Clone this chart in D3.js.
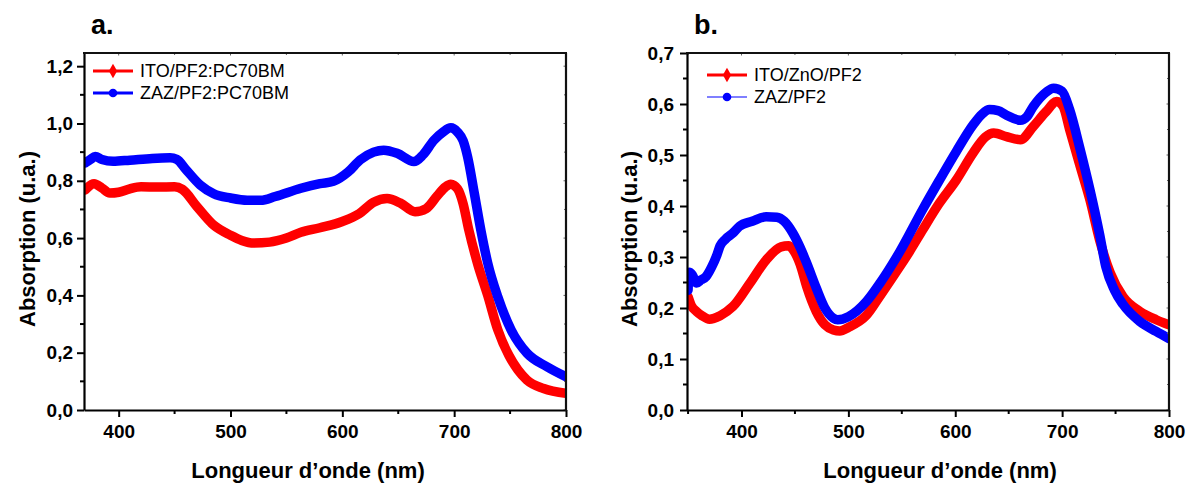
<!DOCTYPE html>
<html><head><meta charset="utf-8">
<script src="https://cdn.jsdelivr.net/npm/d3@7"></script>
<style>
body{margin:0;background:#fff;}
text{font-family:"Liberation Sans",Arial,sans-serif;}
</style></head>
<body><svg id="c" width="1187" height="484"></svg>
<script>
// ---- Data ----
const waveA_ITO = [370,378,385,392,400,410,420,435,450,457,470,485,500,510,521,535,550,563,580,600,615,628,640,652,665,675,685,692,697,703,708,713,721,730,739,749,757,765,780,800];
const absA_ITO  = [0.768,0.79,0.775,0.757,0.76,0.772,0.779,0.778,0.779,0.77,0.71,0.645,0.61,0.592,0.583,0.586,0.6,0.62,0.636,0.658,0.685,0.725,0.738,0.722,0.692,0.703,0.748,0.778,0.788,0.772,0.72,0.63,0.51,0.40,0.28,0.19,0.14,0.105,0.075,0.058];

const waveA_ZAZ = [370,375,379,385,395,410,430,446,452,460,473,485,500,515,527,540,563,580,592,605,616,628,637,649,664,672,682,690,697,703,708,712,718,724,730,739,751,765,783,800];
const absA_ZAZ  = [0.862,0.875,0.885,0.874,0.868,0.872,0.878,0.88,0.875,0.84,0.785,0.755,0.74,0.732,0.732,0.745,0.774,0.79,0.798,0.83,0.873,0.9,0.907,0.896,0.867,0.89,0.942,0.97,0.985,0.97,0.94,0.884,0.757,0.625,0.513,0.395,0.279,0.199,0.151,0.116];

const waveB_ITO = [350,353,358,363,370,380,392,408,423,437,444,448,455,461,470,478,486,492,500,517,530,548,557,570,585,601,617,628,636,648,661,673,685,695,701,707,717,726,735,745,757,773,788,800];
const absB_ITO  = [0.222,0.205,0.193,0.185,0.178,0.185,0.203,0.249,0.294,0.32,0.322,0.315,0.285,0.242,0.193,0.167,0.157,0.155,0.162,0.186,0.225,0.281,0.31,0.355,0.405,0.451,0.505,0.535,0.543,0.536,0.53,0.556,0.585,0.605,0.595,0.55,0.477,0.412,0.334,0.269,0.222,0.193,0.177,0.167];

const waveB_ZAZ = [350,351,354,358,362,367,372,377,380,385,392,398,410,423,433,440,448,455,461,470,478,486,490,500,517,530,548,570,585,601,617,625,632,640,648,661,667,673,685,692,700,707,717,726,735,741,749,757,773,788,800];
const absB_ZAZ  = [0.235,0.27,0.265,0.249,0.255,0.262,0.28,0.304,0.322,0.335,0.347,0.36,0.37,0.379,0.378,0.37,0.347,0.318,0.288,0.239,0.2,0.18,0.177,0.183,0.213,0.25,0.31,0.395,0.45,0.507,0.56,0.58,0.589,0.587,0.578,0.568,0.575,0.595,0.623,0.631,0.625,0.589,0.51,0.432,0.345,0.28,0.235,0.207,0.173,0.154,0.14];

const xTicks = [400,500,600,700,800];
const xMinorA = [450,550,650,750];
const xMinorB = [350,450,550,650,750];
const yTicksA = [0,0.2,0.4,0.6,0.8,1.0,1.2];
const yMinorA = [0.1,0.3,0.5,0.7,0.9,1.1];
const yTicksB = [0,0.1,0.2,0.3,0.4,0.5,0.6,0.7];
const yMinorB = [0.05,0.15,0.25,0.35,0.45,0.55,0.65];

const legendA = ["ITO/PF2:PC70BM","ZAZ/PF2:PC70BM"];
const legendB = ["ITO/ZnO/PF2","ZAZ/PF2"];
const xTitle = "Longueur d\u2019onde (nm)";
const yTitle = "Absorption (u.a.)";

const RED = "#ff0000", BLUE = "#0000ff";
const svg = d3.select("#c");
const fmtY = d => d.toFixed(1).replace(".", ",");

function panel(opt){
  const {x, y, tag, tagX, series, legend, legX, legY, legThinBlue, yTicks, yMinor, xMinor, yPad, yTitleX, xTitleX, id} = opt;
  const [L, R] = x.range(); const [B, T] = y.range();
  const g = svg.append("g");
  g.append("clipPath").attr("id", id).append("rect")
    .attr("x", L).attr("y", T).attr("width", R - L).attr("height", B - T);

  // curves
  const cg = g.append("g").attr("clip-path", `url(#${id})`);
  series.forEach(s => {
    const pts = s.w.map((w, i) => [w, s.a[i]]);
    const line = d3.line().x(d => x(d[0])).y(d => y(d[1])).curve(d3.curveMonotoneX);
    cg.append("path").attr("d", line(pts)).attr("fill", "none")
      .attr("stroke", s.c).attr("stroke-width", 9.5)
      .attr("stroke-linejoin", "round").attr("stroke-linecap", "round");
  });

  // minor ticks
  const mg = g.append("g");
  xMinor.forEach(v => {
    mg.append("line").attr("x1", x(v)).attr("x2", x(v)).attr("y1", B).attr("y2", B + 4).attr("stroke", "#000").attr("stroke-width", 2);
    mg.append("line").attr("x1", x(v)).attr("x2", x(v)).attr("y1", T).attr("y2", T + 2).attr("stroke", "#666").attr("stroke-width", 1);
  });
  xTicks.forEach(v => {
    mg.append("line").attr("x1", x(v)).attr("x2", x(v)).attr("y1", T).attr("y2", T + 2.5).attr("stroke", "#666").attr("stroke-width", 1);
  });
  yMinor.forEach(v => {
    mg.append("line").attr("x1", L - 4).attr("x2", L).attr("y1", y(v)).attr("y2", y(v)).attr("stroke", "#000").attr("stroke-width", 2);
    mg.append("line").attr("x1", R - 2).attr("x2", R).attr("y1", y(v)).attr("y2", y(v)).attr("stroke", "#666").attr("stroke-width", 1);
  });
  yTicks.forEach(v => {
    mg.append("line").attr("x1", R - 2.5).attr("x2", R).attr("y1", y(v)).attr("y2", y(v)).attr("stroke", "#666").attr("stroke-width", 1);
  });

  // axes
  const ax = g.append("g").attr("transform", `translate(0,${B})`)
    .call(d3.axisBottom(x).tickValues(xTicks).tickSize(7).tickSizeOuter(0).tickPadding(8).tickFormat(d3.format("d")));
  const ay = g.append("g").attr("transform", `translate(${L},0)`)
    .call(d3.axisLeft(y).tickValues(yTicks).tickSize(7).tickSizeOuter(0).tickPadding(yPad).tickFormat(fmtY));
  [ax, ay].forEach(a => {
    a.select(".domain").attr("stroke", "#000").attr("stroke-width", 2.2);
    a.selectAll(".tick line").attr("stroke", "#000").attr("stroke-width", 2);
    a.selectAll(".tick text").attr("fill", "#000").style("font-size", "19px").style("font-weight", "bold")
      .style("font-family", '"Liberation Sans",Arial,sans-serif');
  });
  // top and right frame
  g.append("line").attr("x1", L - 1).attr("x2", R + 1).attr("y1", T).attr("y2", T).attr("stroke", "#111").attr("stroke-width", 2.2);
  g.append("line").attr("x1", R).attr("x2", R).attr("y1", T).attr("y2", B + 1).attr("stroke", "#111").attr("stroke-width", 2.2);

  // titles
  g.append("text").attr("x", xTitleX).attr("y", 478).attr("text-anchor", "middle")
    .style("font-size", "22px").style("font-weight", "bold").text(xTitle);
  g.append("text").attr("transform", `translate(${yTitleX},239) rotate(-90)`).attr("text-anchor", "middle")
    .style("font-size", "22px").style("font-weight", "bold").text(yTitle);
  g.append("text").attr("x", tagX).attr("y", 34).style("font-size", "27px").style("font-weight", "bold").text(tag);

  // legend
  const lg = g.append("g");
  legend.forEach((name, i) => {
    const ly = legY[i];
    const c = i === 0 ? RED : BLUE;
    const sw = (i === 1 && legThinBlue) ? 1.2 : 3;
    lg.append("line").attr("x1", legX).attr("x2", legX + 40).attr("y1", ly).attr("y2", ly).attr("stroke", c).attr("stroke-width", sw);
    if (i === 0) {
      lg.append("path").attr("d", d3.symbol(d3.symbolDiamond, 60)()).attr("transform", `translate(${legX + 20},${ly})`).attr("fill", c);
    } else {
      lg.append("circle").attr("cx", legX + 20).attr("cy", ly).attr("r", 4.3).attr("fill", c);
    }
    lg.append("text").attr("x", legX + 47).attr("y", ly).attr("dy", "0.36em")
      .style("font-size", "18px").attr("fill", "#000").text(name);
  });
}

panel({
  id: "clipA",
  x: d3.scaleLinear().domain([369, 800]).range([84, 566]),
  y: d3.scaleLinear().domain([0, 1.246]).range([410, 53]),
  tag: "a.", tagX: 91,
  series: [{w: waveA_ITO, a: absA_ITO, c: RED}, {w: waveA_ZAZ, a: absA_ZAZ, c: BLUE}],
  legend: legendA, legX: 93, legY: [71, 93], legThinBlue: false,
  yTicks: yTicksA, yMinor: yMinorA, xMinor: xMinorA, yPad: 4,
  yTitleX: 35, xTitleX: 308
});
panel({
  id: "clipB",
  x: d3.scaleLinear().domain([349, 800]).range([687, 1169]),
  y: d3.scaleLinear().domain([0, 0.7]).range([410, 53]),
  tag: "b.", tagX: 694,
  series: [{w: waveB_ITO, a: absB_ITO, c: RED}, {w: waveB_ZAZ, a: absB_ZAZ, c: BLUE}],
  legend: legendB, legX: 707, legY: [75, 97], legThinBlue: true,
  yTicks: yTicksB, yMinor: yMinorB, xMinor: xMinorB, yPad: 6,
  yTitleX: 637, xTitleX: 940
});
</script></body></html>
